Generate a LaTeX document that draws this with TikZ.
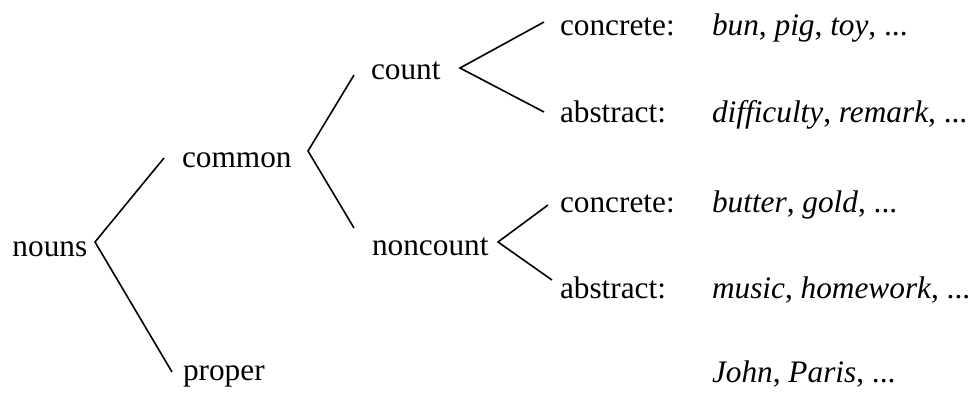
\documentclass[tikz,border=0pt]{standalone}
\usepackage{fontspec}
\setmainfont{Liberation Serif}
\begin{document}
\begin{tikzpicture}[x=1pt,y=-1pt,
  lbl/.style={anchor=base west,inner sep=0pt,outer sep=0pt,font=\fontsize{31.3}{36}\selectfont},
  branch/.style={line width=1.6pt,line join=miter}]
\useasboundingbox (0,0) rectangle (975,392);
% labels
\node[lbl] (nouns) at (12.5,256) {nouns};
\node[lbl] (common) at (182,167) {common};
\node[lbl] (proper) at (183,380) {proper};
\node[lbl] (count) at (371,79) {count};
\node[lbl] (noncount) at (372,255) {noncount};
\node[lbl] (conc1) at (560,35) {concrete:};
\node[lbl] (abs1) at (560,122) {abstract:};
\node[lbl] (conc2) at (560,212) {concrete:};
\node[lbl] (abs2) at (560,298) {abstract:};
\node[lbl] (ex1) at (712,35) {\textit{bun}, \textit{pig}, \textit{toy}, ...};
\node[lbl] (ex2) at (712,122) {\textit{difficulty}, \textit{remark}, ...};
\node[lbl] (ex3) at (712,212) {\textit{butter}, \textit{gold}, ...};
\node[lbl] (ex4) at (712,298) {\textit{music}, \textit{homework}, ...};
\node[lbl] (ex5) at (712,382) {\textit{John}, \textit{Paris}, ...};
% branch points and ends
\coordinate (vn) at (95,242);
\coordinate (vnu) at (164,158);
\coordinate (vnd) at (172,372);
\coordinate (vc) at (308,151);
\coordinate (vcu) at (354,75);
\coordinate (vcd) at (354,228);
\coordinate (vk) at (460,68);
\coordinate (vku) at (544,22);
\coordinate (vkd) at (544,112);
\coordinate (vm) at (498,242);
\coordinate (vmu) at (548,205);
\coordinate (vmd) at (552,280);
% branches
\draw[branch] (vnu) -- (vn) -- (vnd);
\draw[branch] (vcu) -- (vc) -- (vcd);
\draw[branch] (vku) -- (vk) -- (vkd);
\draw[branch] (vmu) -- (vm) -- (vmd);
\end{tikzpicture}
\end{document}
